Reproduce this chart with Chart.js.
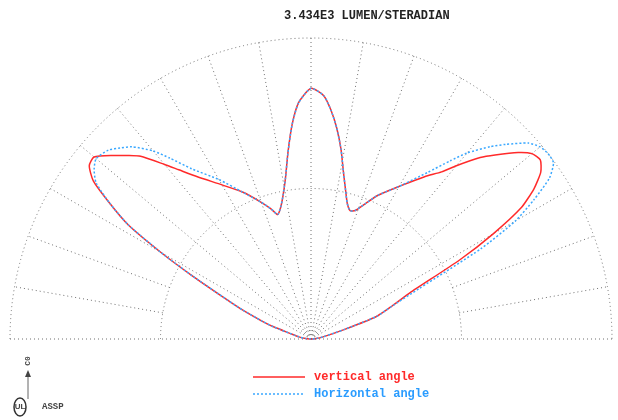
<!DOCTYPE html>
<html>
<head>
<meta charset="utf-8">
<script src="https://cdn.jsdelivr.net/npm/chart.js@4/dist/chart.umd.min.js"></script>
<style>
  html, body { margin: 0; padding: 0; background: #fff; }
  canvas { display: block; }
</style>
</head>
<body>
<canvas id="polar" width="618" height="420"></canvas>
<script>
/* =================================================================
    Photometric polar curve (candela), 0 deg = straight up
================================================================= */

var angles = [-90, -85, -80, -75, -72, -70, -67, -65, -62, -60, -58, -56, -54, -52, -50, -47, -45, -43, -40, -38, -35, -30, -25, -20, -17, -15, -13, -11, -9, -7, -5, -3, 0,
              3, 5, 7, 9, 11, 13, 15, 17, 19, 22, 25, 30, 35, 38, 40, 43, 45, 48, 50, 52, 54, 56, 58, 60, 62, 65, 68, 71, 74, 80, 85, 90];

var verticalAngle = [0, 60, 140, 250, 450, 590, 850, 1050, 1530, 1980, 2460, 2770, 3070, 3210, 3230, 3070, 2960, 2850, 2600, 2450, 2260, 2030, 1850, 1660, 1550, 1470, 1540, 1670, 1860, 2150, 2460, 2700, 2860,
                     2780, 2620, 2420, 2190, 1940, 1750, 1600, 1530, 1550, 1670, 1810, 2010, 2260, 2420, 2580, 2830, 2970, 3180, 3290, 3320, 3240, 3070, 2830, 2400, 1920, 1240, 990, 790, 400, 140, 60, 0];

var horizontalAngle = [0, 60, 140, 250, 450, 590, 850, 1050, 1530, 1980, 2460, 2770, 3030, 3140, 3200, 3160, 3080, 3000, 2800, 2620, 2370, 2100, 1850, 1660, 1550, 1470, 1540, 1670, 1860, 2150, 2460, 2700, 2860,
                       2780, 2620, 2420, 2190, 1940, 1750, 1600, 1530, 1550, 1670, 1810, 2010, 2320, 2580, 2770, 3000, 3140, 3340, 3410, 3434, 3420, 3280, 3000, 2690, 2200, 1360, 990, 790, 400, 140, 60, 0];

var maxValue = 3434;
var gridAngles = [0, 10, 20, 30, 40, 50, 60, 70, 80, 90, 100, 110, 120, 130, 140, 150, 160, 170, 180];

function toPoints(values) {
    return values.map(function (v, i) {
        var a = angles[i] * Math.PI / 180;
        return { x: v * Math.sin(a), y: v * Math.cos(a) };
    });
}

var polarGrid = {
    id: 'polarGrid',
    beforeDatasetsDraw: function (chart) {
        var c = chart.ctx, xs = chart.scales.x, ys = chart.scales.y;
        var cx = xs.getPixelForValue(0), cy = ys.getPixelForValue(0);
        var R = xs.getPixelForValue(maxValue) - cx;
        c.save();
        c.strokeStyle = '#6f6f6f';
        c.lineWidth = 1;
        c.setLineDash([1, 3]);
        // rings
        [1, 0.5].forEach(function (f) {
            c.beginPath();
            c.arc(cx, cy, R * f, Math.PI, 2 * Math.PI);
            c.stroke();
        });
        // radial lines
        gridAngles.forEach(function (g) {
            var a = g * Math.PI / 180;
            var inner = (g === 10 || g === 20 || g === 160 || g === 170) ? R * 0.5 : 0;
            c.beginPath();
            c.moveTo(cx - Math.cos(a) * inner, cy - Math.sin(a) * inner);
            c.lineTo(cx - Math.cos(a) * R, cy - Math.sin(a) * R);
            c.stroke();
        });
        c.restore();
    },
    afterDraw: function (chart) {
        var c = chart.ctx;
        c.save();
        c.font = 'bold 12px "Liberation Mono", "DejaVu Sans Mono", monospace';
        c.textBaseline = 'middle';
        c.fillStyle = '#222';
        c.fillText('3.434E3 LUMEN/STERADIAN', 284, 16);

        // legend
        c.strokeStyle = '#ff2a2a';
        c.lineWidth = 1.5;
        c.beginPath(); c.moveTo(253, 377); c.lineTo(305, 377); c.stroke();
        c.strokeStyle = '#3aa8ff';
        c.setLineDash([2, 2]);
        c.beginPath(); c.moveTo(253, 394); c.lineTo(305, 394); c.stroke();
        c.setLineDash([]);
        c.fillStyle = '#ff2a2a';
        c.fillText('vertical angle', 314, 377);
        c.fillStyle = '#2a9cff';
        c.fillText('Horizontal angle', 314, 394);

        // orientation arrow and mark
        c.strokeStyle = '#666';
        c.fillStyle = '#444';
        c.lineWidth = 1;
        c.beginPath(); c.moveTo(28, 399); c.lineTo(28, 373); c.stroke();
        c.beginPath(); c.moveTo(28, 370); c.lineTo(25, 377); c.lineTo(31, 377); c.closePath(); c.fill();
        c.save();
        c.translate(28, 361);
        c.rotate(-Math.PI / 2);
        c.font = 'bold 8px "Liberation Mono", monospace';
        c.textAlign = 'center';
        c.fillText('C0', 0, 0);
        c.restore();
        c.lineWidth = 1.5;
        c.strokeStyle = '#333';
        c.beginPath(); c.ellipse(20, 407, 6, 9, 0, 0, 2 * Math.PI); c.stroke();
        c.font = 'bold 8px "Liberation Sans", sans-serif';
        c.textAlign = 'center';
        c.fillText('UL', 20, 407);
        c.textAlign = 'left';
        c.font = 'bold 9px "Liberation Mono", monospace';
        c.fillText('ASSP', 42, 407);
        c.restore();
    }
};

var ctx = document.getElementById("polar");

var myChart = new Chart(ctx, {
    type: 'scatter',
    data: {
        datasets: [
            {
                label: 'Horizontal angle',
                data: toPoints(horizontalAngle),
                showLine: true,
                borderColor: '#3aa8ff',
                borderWidth: 1.5,
                borderDash: [2, 2],
                pointRadius: 0,
                tension: 0.2,
                clip: false
            },
            {
                label: 'vertical angle',
                data: toPoints(verticalAngle),
                showLine: true,
                borderColor: '#ff2a2a',
                borderWidth: 1.5,
                pointRadius: 0,
                tension: 0.2,
                clip: false
            }
        ]
    },
    options: {
        responsive: false,
        animation: false,
        layout: { padding: { left: 10, right: 6, top: 38, bottom: 81 } },
        scales: {
            x: { type: 'linear', min: -maxValue, max: maxValue, display: false },
            y: { type: 'linear', min: 0, max: maxValue, display: false }
        },
        plugins: {
            legend: { display: false },
            tooltip: { enabled: false }
        }
    },
    plugins: [polarGrid]
});
</script>
</body>
</html>
